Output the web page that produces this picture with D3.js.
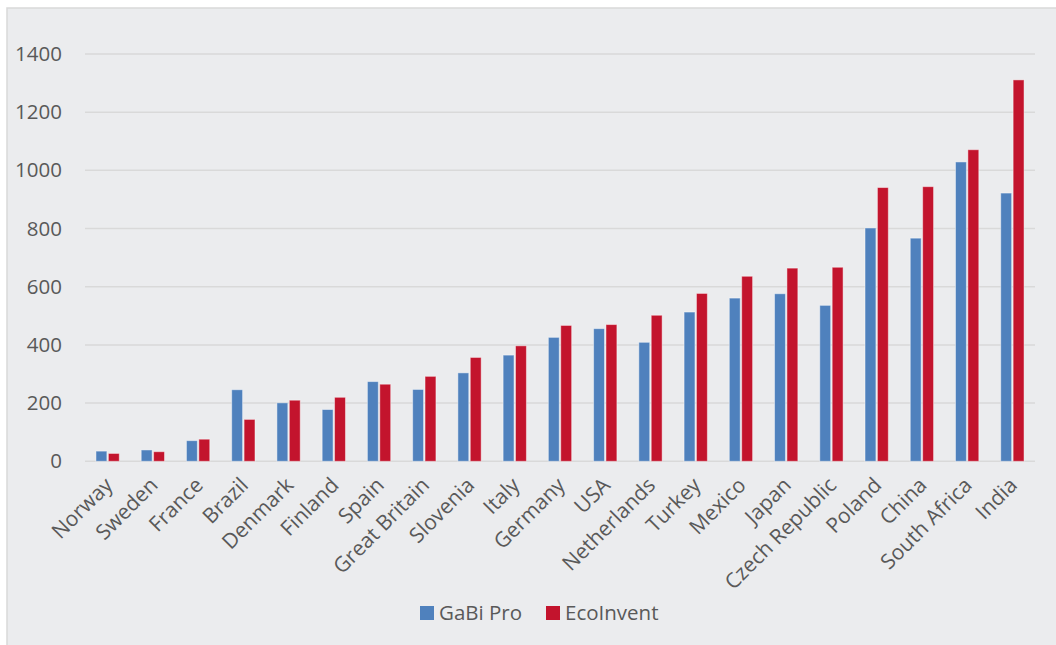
<!DOCTYPE html>
<html>
<head>
<meta charset="utf-8">
<script src="https://cdn.jsdelivr.net/npm/d3@7"></script>
<style>
  html, body { margin: 0; padding: 0; background: #ffffff; }
  svg { display: block; }
  text { font-family: "Open Sans", sans-serif; fill: #595959; }
</style>
</head>
<body>
<script>
const categories = ["Norway","Sweden","France","Brazil","Denmark","Finland","Spain","Great Britain","Slovenia","Italy","Germany","USA","Netherlands","Turkey","Mexico","Japan","Czech Republic","Poland","China","South Africa","India"];
const seriesNames = ["GaBi Pro","EcoInvent"];
const gabiPro   = [35, 39, 71, 246, 201, 178, 274, 247, 304, 365, 426, 456, 409, 513, 561, 576, 536, 802, 767, 1029, 922];
const ecoInvent = [27, 33, 76, 144, 210, 220, 265, 292, 357, 397, 467, 470, 502, 577, 636, 664, 667, 941, 944, 1071, 1311];
const yTicks = [0, 200, 400, 600, 800, 1000, 1200, 1400];
const colors = ["#4F81BD", "#C3142D"];

(function () {
const W = 1056, H = 645;
const svg = d3.select("body").append("svg").attr("width", W).attr("height", H);

// chart frame
svg.append("rect").attr("x", 7).attr("y", 8).attr("width", W + 10).attr("height", H + 10)
  .attr("fill", "#EBECEE").attr("stroke", "#D9D9D9").attr("stroke-width", 1.5);

const pLeft = 85, pRight = 1035, pTop = 54, pBottom = 461.3;
const y = d3.scaleLinear().domain([0, 1400]).range([pBottom, pTop]);
const x0 = d3.scaleBand().domain(categories).range([pLeft, pRight]).paddingInner(0.485).paddingOuter(0.2425);
const x1 = d3.scaleBand().domain(seriesNames).range([0, x0.bandwidth()]).paddingInner(0.12);

// gridlines
svg.append("g").selectAll("line").data(yTicks).join("line")
  .attr("x1", pLeft).attr("x2", pRight)
  .attr("y1", d => y(d)).attr("y2", d => y(d))
  .attr("stroke", "#D9D9D9").attr("stroke-width", 1.5);

// y axis labels
const yAxis = d3.axisLeft(y).tickValues(yTicks).tickSize(0).tickPadding(0).tickFormat(d3.format("d"));
const gy = svg.append("g").attr("transform", `translate(62,0)`).call(yAxis);
gy.select(".domain").remove();
gy.selectAll("text").style("font-size", "20.5px").style("font-family", "Open Sans, sans-serif").attr("fill", "#595959");

// bars
const data = categories.map((c, i) => ({ c, vals: [gabiPro[i], ecoInvent[i]] }));
const groups = svg.append("g").selectAll("g").data(data).join("g")
  .attr("transform", d => `translate(${x0(d.c)},0)`);
groups.selectAll("rect").data(d => d.vals.map((v, j) => ({ s: seriesNames[j], v, j }))).join("rect")
  .attr("x", d => x1(d.s))
  .attr("width", x1.bandwidth())
  .attr("y", d => y(d.v))
  .attr("height", d => y(0) - y(d.v))
  .attr("fill", d => colors[d.j])
  .attr("stroke", "rgba(255,255,255,0.45)")
  .attr("stroke-width", 1);

// x axis labels
const xAxis = d3.axisBottom(x0).tickSize(0).tickPadding(0);
const gx = svg.append("g").attr("transform", `translate(0,${pBottom})`).call(xAxis);
gx.select(".domain").remove();
gx.selectAll("text")
  .style("font-size", "21px").style("font-family", "Open Sans, sans-serif").attr("fill", "#595959")
  .attr("text-anchor", "end")
  .attr("dy", "0.35em")
  .attr("transform", "translate(1,20) rotate(-45)");

// legend
const legend = svg.append("g");
const legX = [420, 546];
seriesNames.forEach((s, i) => {
  legend.append("rect").attr("x", legX[i]).attr("y", 606).attr("width", 14).attr("height", 14).attr("fill", colors[i]);
  legend.append("text").attr("x", legX[i] + 19).attr("y", 620).text(s)
    .style("font-size", "20.5px").attr("fill", "#595959");
});
})();
</script>
</body>
</html>
